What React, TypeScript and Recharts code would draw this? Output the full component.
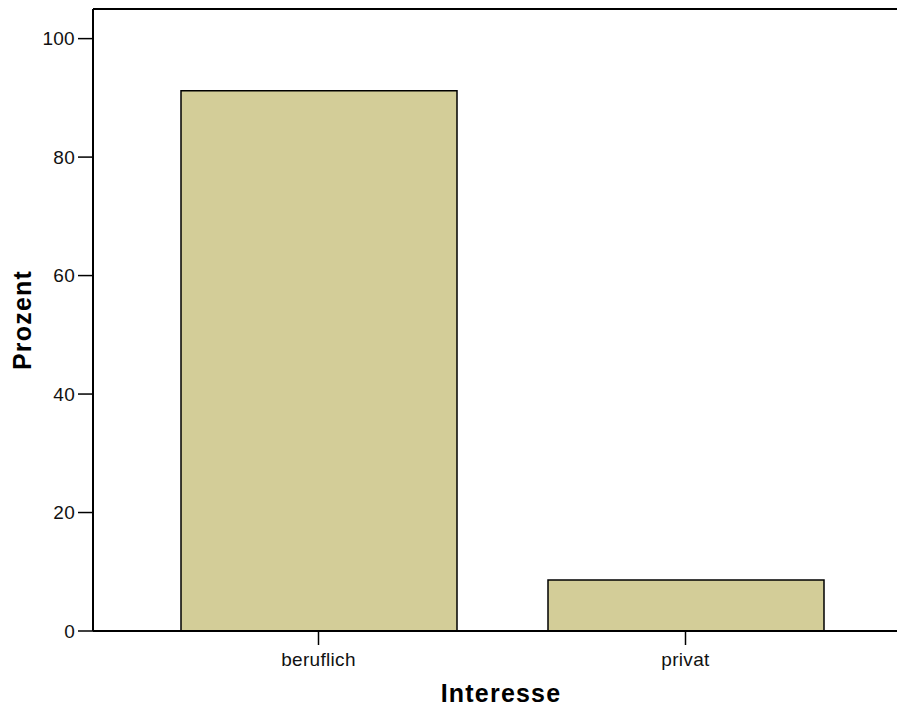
import { BarChart, Bar, XAxis, YAxis, ReferenceLine } from 'recharts';

const categories = ['beruflich', 'privat'];
const percentValues = [91.2, 8.6];
const yTicks = [0, 20, 40, 60, 80, 100];

const data = categories.map((name, i) => ({ name, value: percentValues[i] }));

const font = 'Arial, "Liberation Sans", sans-serif';
const tickStyle = { fontSize: 19, fill: '#111', fontFamily: font, letterSpacing: 0.3 };

// rotated y title, placed inside the y-axis box
function YTitle(props: any) {
  const { viewBox } = props;
  const cx = viewBox.x + 31;
  const cy = viewBox.y + viewBox.height / 2;
  return (
    <text
      x={cx}
      y={cy}
      transform={`rotate(-90, ${cx}, ${cy})`}
      textAnchor="middle"
      fontFamily={font}
      fontWeight="bold"
      fontSize={25}
      letterSpacing={1.2}
      fill="#000"
    >
      Prozent
    </text>
  );
}

function XTitle(props: any) {
  const { viewBox } = props;
  return (
    <text
      x={viewBox.x + viewBox.width / 2 + 6}
      y={viewBox.y + 71}
      textAnchor="middle"
      fontFamily={font}
      fontWeight="bold"
      fontSize={25}
      letterSpacing={1.2}
      fill="#000"
    >
      Interesse
    </text>
  );
}

export default function App() {
  return (
    <div style={{ position: 'absolute', left: 0, top: 0, background: '#fff' }}>
      <BarChart
        width={897}
        height={706}
        data={data}
        margin={{ top: 9, right: 0, bottom: 0, left: 0 }}
      >
        <XAxis
          dataKey="name"
          height={75}
          padding={{ left: 42, right: 28 }}
          tick={tickStyle}
          tickSize={14}
          tickMargin={8}
          axisLine={{ stroke: '#000', strokeWidth: 2 }}
          tickLine={{ stroke: '#000', strokeWidth: 1.5 }}
          label={<XTitle />}
        />
        <YAxis
          width={93}
          domain={[0, 105]}
          ticks={yTicks}
          tick={tickStyle}
          tickSize={15}
          tickMargin={3}
          axisLine={{ stroke: '#000', strokeWidth: 2 }}
          tickLine={{ stroke: '#000', strokeWidth: 1.5 }}
          label={<YTitle />}
        />
        <ReferenceLine y={105} stroke="#000" strokeWidth={2} />
        <Bar
          dataKey="value"
          fill="#d3cd98"
          stroke="#000"
          strokeWidth={1.5}
          barSize={276}
          isAnimationActive={false}
        />
      </BarChart>
    </div>
  );
}
